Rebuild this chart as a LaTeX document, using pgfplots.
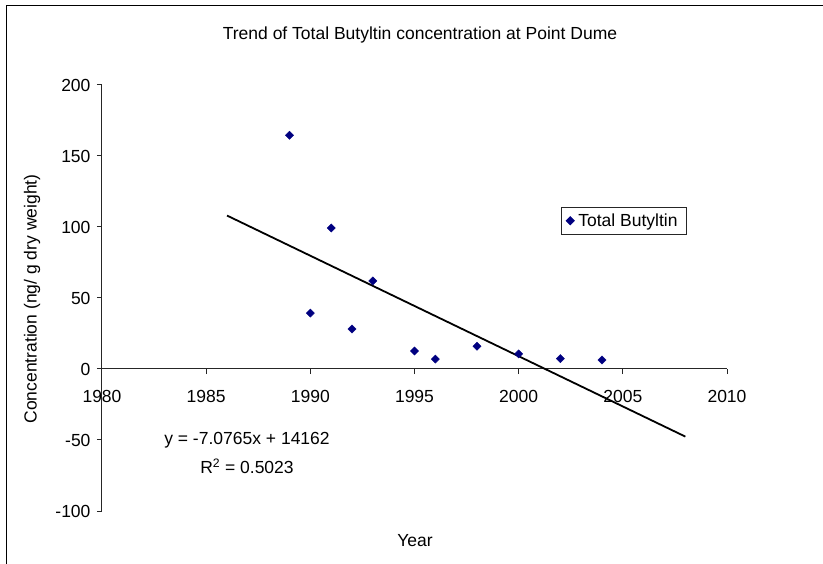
\documentclass[border=0pt]{standalone}
\usepackage{fontspec}
\setmainfont{Liberation Sans}
\usepackage{pgfplots}
\pgfplotsset{compat=1.18}
\definecolor{navy}{RGB}{0,0,128}
\begin{document}
\begin{tikzpicture}[font=\fontsize{17.5}{21}\selectfont]
\useasboundingbox (-102pt,-52pt) rectangle (721pt,511pt);
\draw[line width=1.5pt] (-95.5pt,-60pt) -- (-95.5pt,505.5pt) -- (730pt,505.5pt);
\begin{axis}[
  at={(0pt,0pt)}, anchor=south west,
  scale only axis, width=625pt, height=426pt,
  xmin=1980, xmax=2010, ymin=-100, ymax=200,
  axis x line=middle, axis y line=left,
  axis line style={-, line width=1pt, black!85},
  xtick={1980,1985,...,2010}, ytick={-100,-50,...,200},
  tick align=outside, major tick length=5pt,
  tick style={line width=1pt, black!85},
  hide obscured x ticks=false, hide obscured y ticks=false,
  /pgf/number format/assume math mode=true,
  /pgf/number format/set thousands separator={},
  xticklabel style={font=\fontsize{17.5}{21}\selectfont, yshift=-13pt},
  yticklabel style={font=\fontsize{17.5}{21}\selectfont, xshift=-3pt},
  legend style={at={(0.734,0.714)}, anchor=north west, draw=black!85, line width=0.8pt,
    font=\fontsize{17.5}{21}\selectfont, inner xsep=5pt, inner ysep=3pt, legend cell align=left,
    nodes={inner ysep=3.5pt, inner xsep=4pt}},
  legend image code/.code={\draw[#1] plot coordinates {(0.3cm,0cm)};},
  clip=false,
]
\addplot[only marks, mark=square*, mark size=2.9pt, mark options={rotate=45, fill=navy, draw=navy}, navy]
coordinates {(1989,164.6) (1990,39.4) (1991,99.3) (1992,28.2) (1993,62.0) (1995,12.7) (1996,7.0) (1998,16.0) (2000,10.6) (2002,7.3) (2004,6.3)};
\addlegendentry{Total Butyltin}
\addplot[black, line width=1.8pt, forget plot] coordinates {(1986,108.07) (2008,-47.6)};
\node at (axis cs:1986.96,-50.2) {y = -7.0765x + 14162};
\node at (axis cs:1986.96,-68.5) {R\textsuperscript{2} = 0.5023};
\end{axis}
\node at (318pt,476pt) {Trend of Total Butyltin concentration at Point Dume};
\node[rotate=90] at (-70pt,212pt) {Concentration (ng/ g dry weight)};
\node at (313pt,-30pt) {Year};
\end{tikzpicture}
\end{document}
